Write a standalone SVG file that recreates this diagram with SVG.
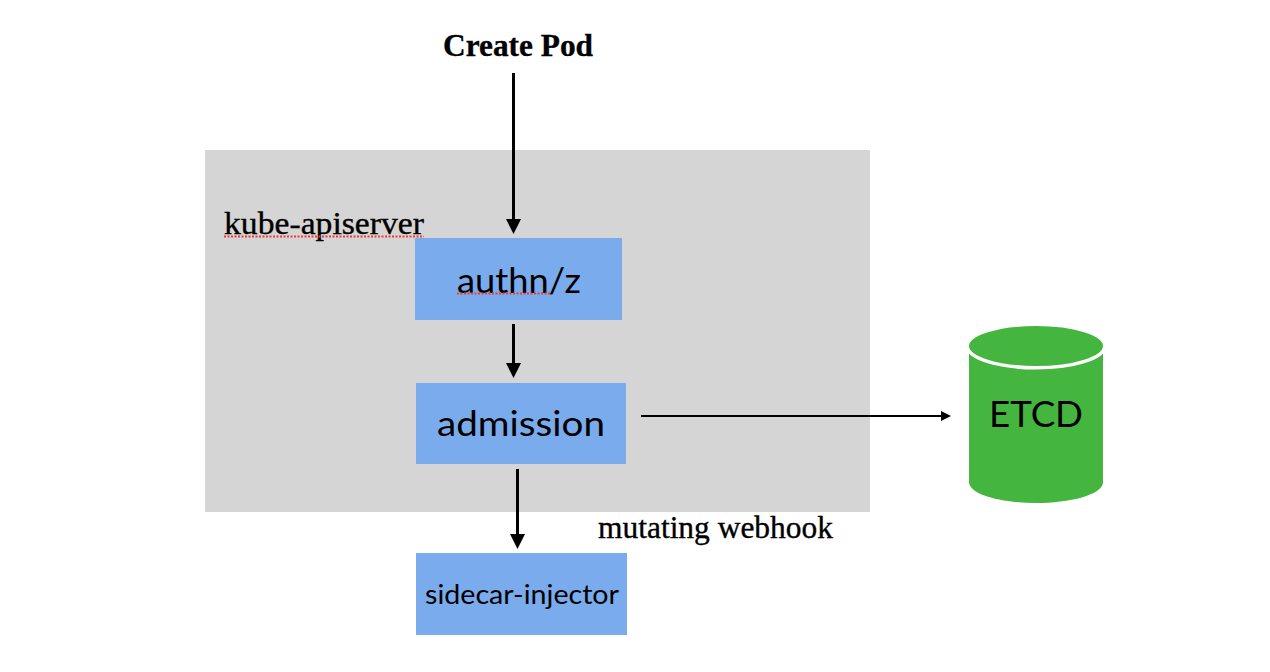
<svg xmlns="http://www.w3.org/2000/svg" width="1270" height="672" viewBox="0 0 1270 672">
<style>
.box{fill:#7aabed}
.sans{font-family:"Lato","Open Sans",sans-serif;fill:#000;text-anchor:middle}
.serif{font-family:"Liberation Serif",serif;fill:#000;stroke:#000;stroke-width:.35}
.c{stroke:#000;stroke-width:3;fill:none}
.c2{stroke:#000;stroke-width:2;fill:none}
.sq{stroke:#f03a3a;stroke-width:1.8;stroke-dasharray:2 1.500;fill:none}
</style>
<rect width="1270" height="672" fill="#fff"/>
<rect id="kube-apiserver-area" x="205" y="150" width="665" height="362" fill="#d5d5d5"/>
<g id="connectors">
<path class="c" d="M513.500 73V222"/><path d="M506 219H521L513.500 234Z"/>
<path class="c" d="M513.500 324V366"/><path d="M506 363H521L513.500 378Z"/>
<path class="c" d="M517.500 469V536"/><path d="M510 534H525L517.500 549Z"/>
<path class="c2" d="M641 416H942"/><path d="M941 411L951 416L941 421Z"/>
</g>
<g id="create-pod"><text class="serif" x="443" y="56" font-size="31" font-weight="700" textLength="150" lengthAdjust="spacingAndGlyphs">Create Pod</text></g>
<g id="kube-apiserver-label"><text class="serif" x="224" y="234" font-size="32" textLength="200" lengthAdjust="spacingAndGlyphs">kube-apiserver</text><path class="sq" d="M224 236.500H424"/></g>
<g id="authn"><rect class="box" x="415" y="238" width="207" height="82"/><text class="sans" x="519" y="292.500" font-size="34" textLength="124" lengthAdjust="spacingAndGlyphs">authn/z</text><path class="sq" d="M457 293.500H551"/></g>
<g id="admission"><rect class="box" x="416" y="383" width="210" height="81"/><text class="sans" x="521" y="436" font-size="34" textLength="168" lengthAdjust="spacingAndGlyphs">admission</text></g>
<g id="sidecar-injector"><rect class="box" x="416" y="553" width="211" height="82"/><text class="sans" x="522" y="603.500" font-size="27" textLength="194" lengthAdjust="spacingAndGlyphs">sidecar-injector</text></g>
<g id="mutating-webhook"><text class="serif" x="598" y="538" font-size="31" textLength="235" lengthAdjust="spacingAndGlyphs">mutating webhook</text></g>
<g id="etcd">
<path d="M969 346V482C969 495 1003 503 1036 503C1069 503 1103 495 1103 482V346Z" fill="#44b53e"/>
<ellipse cx="1036" cy="346" rx="68.750" ry="21.750" fill="#44b53e" stroke="#fff" stroke-width="3.500"/>
<text class="sans" x="1036" y="427" font-size="36" textLength="94" lengthAdjust="spacingAndGlyphs">ETCD</text>
</g>
</svg>
